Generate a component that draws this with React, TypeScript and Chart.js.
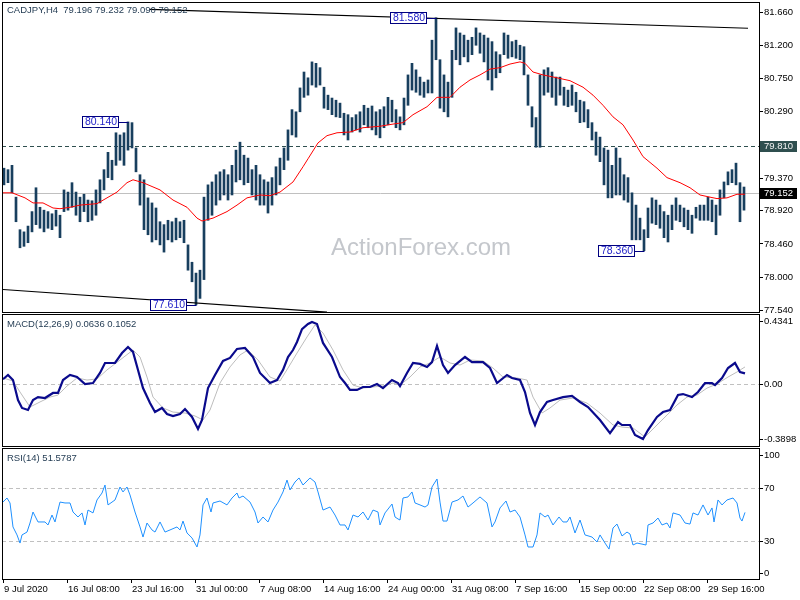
import React, { useEffect, useRef } from 'react';
import { Chart, registerables } from 'chart.js';

Chart.register(...registerables);

// ---------------- data ----------------
// H4 bars, grouped in pairs (bar index = 2k + 0.5)
const barHigh = [
  79.50, 79.48, 79.54, 79.10, 78.65, 78.62, 78.70, 78.90, 79.23, 78.96,
  78.92, 78.90, 78.87, 78.92, 78.85, 79.20, 79.17, 79.30, 79.17, 79.10,
  79.14, 79.06, 79.05, 79.20, 79.34, 79.48, 79.72, 79.61, 79.99, 79.96,
  79.99, 80.14, 80.13, 79.78, 79.41, 79.34, 79.09, 79.02, 78.95, 78.76,
  78.72, 78.78, 78.76, 78.81, 78.76, 78.78, 78.44, 78.20, 78.05, 78.09,
  79.10, 79.27, 79.31, 79.41, 79.45, 79.48, 79.41, 79.54, 79.75, 79.86,
  79.68, 79.64, 79.48, 79.54, 79.41, 79.34, 79.31, 79.37, 79.52, 79.64,
  79.78, 80.03, 80.31, 80.28, 80.61, 80.83, 80.75, 80.97, 80.95, 80.89,
  80.62, 80.51, 80.47, 80.44, 80.40, 80.26, 80.24, 80.20, 80.24, 80.28,
  80.37, 80.33, 80.36, 80.28, 80.31, 80.35, 80.48, 80.44, 80.31, 80.21,
  80.47, 80.79, 80.95, 80.86, 80.76, 80.69, 80.72, 81.27, 81.58, 81.00,
  80.79, 80.69, 81.13, 81.44, 81.37, 81.34, 81.27, 81.31, 81.44, 81.37,
  81.34, 81.30, 81.25, 81.11, 81.07, 81.37, 81.34, 81.25, 81.27, 81.20,
  81.18, 80.79, 80.35, 80.20, 80.79, 80.86, 80.89, 80.83, 80.76, 80.76,
  80.62, 80.58, 80.65, 80.55, 80.44, 80.42, 80.31, 80.13, 80.00, 79.93,
  79.78, 79.75, 79.54, 79.78, 79.64, 79.41, 79.37, 79.16, 78.99, 78.81,
  78.65, 78.95, 79.09, 79.06, 78.99, 78.90, 78.85, 78.99, 79.09, 78.99,
  78.95, 78.92, 78.85, 78.96, 78.99, 78.99, 79.10, 79.06, 78.99, 79.20,
  79.31, 79.45, 79.48, 79.57, 79.30, 79.24,
];
const barLow = [
  79.27, 79.30, 79.16, 78.76, 78.40, 78.42, 78.47, 78.62, 78.72, 78.67,
  78.62, 78.67, 78.65, 78.70, 78.54, 78.90, 78.92, 78.96, 78.85, 78.76,
  78.90, 78.76, 78.78, 78.85, 79.02, 79.20, 79.37, 79.34, 79.54, 79.61,
  79.54, 79.75, 79.78, 79.45, 78.99, 78.65, 78.58, 78.48, 78.51, 78.44,
  78.34, 78.51, 78.48, 78.51, 78.54, 78.47, 78.09, 77.93, 77.61, 77.70,
  77.96, 78.78, 78.85, 78.99, 79.06, 79.13, 79.06, 79.13, 79.31, 79.34,
  79.27, 79.30, 79.13, 79.06, 78.99, 78.99, 78.88, 78.99, 79.13, 79.27,
  79.48, 79.61, 79.96, 79.93, 80.28, 80.48, 80.51, 80.65, 80.62, 80.65,
  80.33, 80.31, 80.24, 80.21, 80.20, 79.96, 79.89, 80.00, 80.03, 80.00,
  80.10, 80.06, 80.03, 79.96, 79.92, 80.06, 80.10, 80.14, 80.06, 80.03,
  80.10, 80.37, 80.58, 80.55, 80.51, 80.48, 80.54, 80.54, 81.00, 80.33,
  80.28, 80.21, 80.48, 81.00, 80.93, 81.04, 80.97, 81.07, 81.20, 81.09,
  80.97, 80.72, 80.58, 80.75, 80.82, 81.07, 81.02, 81.04, 81.02, 81.00,
  80.79, 80.37, 80.07, 79.79, 79.79, 80.51, 80.55, 80.48, 80.37, 80.51,
  80.37, 80.35, 80.37, 80.28, 80.13, 80.14, 80.06, 79.89, 79.68, 79.59,
  79.27, 79.09, 79.09, 79.13, 79.13, 79.06, 79.03, 78.51, 78.51, 78.51,
  78.36, 78.54, 78.74, 78.72, 78.67, 78.54, 78.48, 78.65, 78.78, 78.76,
  78.69, 78.65, 78.60, 78.81, 78.78, 78.78, 78.78, 78.76, 78.58, 78.85,
  79.09, 79.27, 79.30, 79.27, 78.76, 78.92,
];

// [bar index, value]
const maPoints = [
  [0, 79.16], [4.5, 79.16], [11, 79.09], [15, 79.02], [20, 79.02], [25, 78.95], [28.5, 78.94],
  [33.5, 78.96], [38.5, 78.99], [47, 79.01], [52, 79.09], [57, 79.17], [62, 79.30], [65, 79.34],
  [70, 79.30], [78.5, 79.20], [85, 79.06], [92, 78.96], [97, 78.81], [99.5, 78.77], [105, 78.81],
  [112, 78.90], [117, 78.99], [122, 79.09], [128.5, 79.13], [133.5, 79.12], [138.5, 79.17],
  [145, 79.31], [150, 79.52], [152.5, 79.63], [157.5, 79.85], [162, 79.95], [167, 79.99],
  [173.5, 80.00], [180, 80.06], [188.5, 80.08], [195, 80.11], [200, 80.13], [205, 80.24],
  [212, 80.35], [217, 80.48], [223.5, 80.48], [228.5, 80.62], [233.5, 80.72], [238.5, 80.79],
  [243.5, 80.87], [248.5, 80.89], [253.5, 80.94], [258.5, 80.97], [261, 80.95], [265, 80.83],
  [270, 80.79], [277, 80.75], [283.5, 80.71], [290, 80.62], [295, 80.51], [300, 80.37],
  [305, 80.21], [310, 80.10], [315, 79.89], [320, 79.66], [327, 79.50], [332, 79.37],
  [338.5, 79.30], [343.5, 79.23], [348.5, 79.13], [353.5, 79.10], [357, 79.08], [362, 79.09],
  [367, 79.14], [371, 79.14],
];

const macdPoints = [
  [0, 0.027], [2.5, 0.054], [5, 0.022], [7.5, -0.105], [9.5, -0.155], [12.5, -0.168], [15, -0.105],
  [17.5, -0.086], [21, -0.092], [25, -0.060], [27.5, -0.060], [30, 0.022], [33.5, 0.054], [37, 0.041],
  [41, -0.003], [45, 0.003], [48.5, 0.067], [51, 0.130], [56, 0.130], [59.5, 0.193], [62.5, 0.231],
  [65, 0.200], [67.5, 0.086], [70, -0.029], [73.5, -0.124], [76, -0.181], [79.5, -0.155], [82, -0.193],
  [85, -0.206], [88.5, -0.193], [91, -0.162], [94.5, -0.212], [97.5, -0.288], [99.5, -0.231],
  [102.5, -0.029], [106, 0.054], [110, 0.143], [113.5, 0.162], [117, 0.219], [121, 0.225],
  [125, 0.168], [128.5, 0.067], [133.5, 0.003], [137, 0.022], [140, 0.086], [142.5, 0.168],
  [145, 0.212], [147, 0.263], [149.5, 0.345], [152.5, 0.377], [154.5, 0.390], [157, 0.377],
  [160, 0.257], [164.5, 0.168], [168.5, 0.041], [171, 0.003], [173.5, -0.041], [177, -0.041],
  [180, -0.022], [183.5, -0.022], [187, -0.003], [190, -0.029], [194.5, 0.022], [197.5, 0.003],
  [198.5, -0.016], [202, 0.067], [205, 0.130], [208.5, 0.124], [212, 0.105], [214.5, 0.136],
  [217, 0.238], [220, 0.117], [222.5, 0.067], [226, 0.117], [231, 0.168], [234.5, 0.136],
  [240, 0.136], [243.5, 0.098], [247, 0.003], [252, 0.054], [254.5, 0.035], [258.5, 0.022],
  [261, -0.054], [263.5, -0.187], [266, -0.263], [268.5, -0.181], [272, -0.117], [275, -0.105],
  [280, -0.086], [284.5, -0.079], [288.5, -0.117], [292.5, -0.149], [298.5, -0.231], [303.5, -0.314],
  [307.5, -0.244], [309.5, -0.263], [313.5, -0.263], [316, -0.326], [320, -0.352], [322.5, -0.295],
  [327, -0.212], [330, -0.181], [333.5, -0.168], [337.5, -0.073], [340, -0.067], [344.5, -0.086],
  [347.5, -0.054], [351, 0.003], [354.5, 0.003], [356, -0.010], [359.5, 0.035], [362.5, 0.098],
  [366, 0.130], [368.5, 0.073], [371, 0.064],
];

const signalPoints = [
  [0, 0.035], [5, 0.016], [8.5, -0.054], [13.5, -0.149], [18.5, -0.117], [23.5, -0.086], [27.5, -0.073],
  [32, -0.016], [37, 0.035], [42, 0.022], [47, 0.029], [52, 0.086], [58.5, 0.149], [65, 0.212],
  [68.5, 0.168], [72, 0.041], [75, -0.086], [80, -0.155], [85, -0.181], [91, -0.187], [96, -0.206],
  [100, -0.231], [103.5, -0.168], [108.5, 0.003], [113.5, 0.105], [118.5, 0.181], [122.5, 0.212],
  [127.5, 0.149], [133.5, 0.041], [138.5, 0.016], [142.5, 0.098], [147, 0.193], [152, 0.295],
  [156, 0.371], [160, 0.320], [165, 0.212], [170, 0.086], [175, -0.010], [180, -0.029], [185, -0.022],
  [190, -0.016], [195, 0.003], [198.5, -0.010], [203.5, 0.041], [208.5, 0.105], [213.5, 0.130],
  [218.5, 0.168], [223.5, 0.130], [228.5, 0.117], [233.5, 0.149], [240, 0.143], [245, 0.098],
  [250, 0.041], [257, 0.035], [262, 0.022], [265, -0.086], [269.5, -0.187], [273.5, -0.155],
  [278.5, -0.105], [285, -0.092], [292, -0.124], [298.5, -0.187], [305, -0.263], [309.5, -0.276],
  [315, -0.282], [321, -0.339], [327, -0.263], [332, -0.200], [337, -0.136], [342, -0.086],
  [347, -0.073], [352, -0.029], [357, -0.003], [362.5, 0.041], [367, 0.073], [371, 0.105],
];

const rsiPoints = [
  [0, 59.5], [2, 62.6], [3.5, 58.8], [5, 40.5], [7, 34.4], [8.5, 28.2], [9.5, 34.4], [12, 36.6],
  [13.5, 43.5], [15, 51.9], [17.5, 44.3], [21, 44.3], [22.5, 42.0], [24.5, 49.6], [26, 44.3],
  [28.5, 59.5], [31, 58.8], [33.5, 58.8], [35, 51.9], [37.5, 48.1], [39.5, 51.2], [41, 42.0],
  [42.5, 53.4], [45, 51.2], [47, 61.1], [49.5, 66.4], [51, 72.5], [52.5, 57.3], [56, 61.1],
  [58.5, 71.0], [60, 67.2], [62, 71.0], [63.5, 64.9], [66, 51.9], [68.5, 40.5], [70, 32.8],
  [72, 43.5], [74.5, 38.2], [76, 36.6], [78.5, 44.3], [81, 36.6], [83.5, 38.2], [87, 40.5],
  [88.5, 38.2], [90, 45.0], [92, 35.9], [94.5, 32.1], [97, 25.2], [98.5, 34.4], [100, 57.3],
  [102, 62.6], [104, 51.9], [105, 58.8], [108.5, 60.3], [112, 57.3], [114.5, 62.6], [117, 66.4],
  [118, 62.6], [120, 64.1], [123.5, 59.5], [126, 51.9], [127.5, 43.5], [130, 48.1], [132.5, 44.3],
  [135, 53.4], [137.5, 59.5], [140, 67.2], [142, 76.3], [143.5, 68.7], [146, 74.8], [148, 77.9],
  [150, 72.5], [153.5, 77.9], [156, 74.8], [157.5, 67.2], [160, 53.4], [163.5, 55.7], [166, 49.6],
  [168.5, 42.0], [171, 42.0], [172.5, 38.2], [175, 49.6], [177.5, 48.1], [180, 51.9], [182.5, 45.8],
  [185, 53.4], [187.5, 51.9], [188.5, 42.0], [191, 51.2], [194.5, 58.0], [196, 48.1], [197.5, 46.6],
  [198.5, 45.8], [200, 62.6], [202.5, 63.4], [204.5, 67.2], [206, 58.8], [208.5, 57.3], [211, 55.7],
  [212.5, 57.3], [214.5, 71.0], [217, 77.1], [218.5, 59.5], [220, 45.0], [222, 45.0], [224.5, 59.5],
  [227.5, 61.1], [230, 64.1], [232.5, 55.7], [235, 58.8], [238.5, 63.4], [242, 58.8], [243.5, 48.1],
  [244.5, 40.5], [246, 44.3], [248.5, 55.0], [251.5, 60.3], [253.5, 51.9], [256, 53.4], [258.5, 48.1],
  [261, 34.4], [262.5, 25.2], [265, 25.2], [267, 34.4], [268.5, 51.2], [271, 48.1], [272.5, 49.6],
  [275, 42.0], [278, 48.1], [280, 44.3], [282, 44.3], [283.5, 48.1], [286, 35.9], [288.5, 45.8],
  [291, 34.4], [294.5, 32.8], [297, 29.0], [298.5, 34.4], [301, 28.2], [303, 23.6], [305, 39.7],
  [307, 42.7], [309.5, 33.6], [312, 36.6], [313.5, 35.1], [315, 26.7], [317, 28.2], [319.5, 27.4],
  [321.5, 26.7], [322.5, 42.0], [325, 43.5], [327.5, 47.3], [329.5, 42.0], [332, 43.5], [333.5, 39.7],
  [335, 51.2], [338.5, 49.6], [341, 43.5], [343.5, 42.7], [345, 51.2], [347.5, 49.6], [350, 57.3],
  [352.5, 49.6], [354.5, 55.0], [355.5, 44.3], [357.5, 61.1], [359.5, 57.3], [362, 61.1], [365, 62.6],
  [367, 58.8], [368.5, 47.3], [369.5, 45.0], [371, 51.6],
];

const upperTrend = [[73.5, 81.697], [372.5, 81.435]];
const lowerTrend = [[0, 77.823], [162, 77.51]];

const extremeBars = [62.5, 216.5, 96.5, 320.5];
const extremePrices = [80.14, 81.58, 77.61, 78.36];

const priceTicks = [81.66, 81.2, 80.75, 80.29, 79.37, 78.92, 78.46, 78.0, 77.54];
const supportLevel = 79.81;
const lastPrice = 79.152;
const macdTicks = [0.4341, 0, -0.3898];
const macdTickLabels = ['0.4341', '0.00', '-0.3898'];
const rsiTicks = [100, 70, 30, 0];
const rsiLevels = [70, 30];

const timeTickBars = [0, 32, 64, 96, 128, 160, 192, 224, 256, 288, 320, 352];
const timeLabels = [
  '9 Jul 2020', '16 Jul 08:00', '23 Jul 16:00', '31 Jul 00:00', '7 Aug 08:00', '14 Aug 16:00',
  '24 Aug 00:00', '31 Aug 08:00', '7 Sep 16:00', '15 Sep 00:00', '22 Sep 08:00', '29 Sep 16:00',
];

const mainTitle = 'CADJPY,H4  79.196 79.232 79.090 79.152';
const macdTitle = 'MACD(12,26,9) 0.0636 0.1052';
const rsiTitle = 'RSI(14) 51.5787';
const watermark = 'ActionForex.com';

const barRange = [-0.5, 378];
const priceRange = [77.512, 81.798];
const macdRange = [-0.396, 0.4404];
const rsiRange = [0, 100];

// ---------------- helpers ----------------
const FONT = '"Liberation Sans", Arial, sans-serif';
const TITLE_COLOR = '#1F3850';

function baseOptions(padding: any, yMin: number, yMax: number): any {
  return {
    animation: false,
    responsive: false,
    maintainAspectRatio: false,
    devicePixelRatio: 1,
    events: [],
    layout: { padding },
    plugins: { legend: { display: false }, tooltip: { enabled: false }, title: { display: false } },
    scales: {
      x: { type: 'linear', min: barRange[0], max: barRange[1], display: false, offset: false },
      y: { type: 'linear', min: yMin, max: yMax, display: false },
    },
  };
}

function lineDs(points: number[][], color: string, width: number, order: number): any {
  return {
    type: 'line',
    data: points.map(([x, y]) => ({ x, y })),
    borderColor: color,
    borderWidth: width,
    pointRadius: 0,
    tension: 0,
    fill: false,
    order,
  };
}

function drawFrame(ctx: CanvasRenderingContext2D, l: number, t: number, r: number, b: number) {
  ctx.save();
  ctx.strokeStyle = '#000';
  ctx.lineWidth = 1;
  ctx.setLineDash([]);
  ctx.strokeRect(l + 0.5, t + 0.5, r - l, b - t);
  ctx.restore();
}

function drawRightLabel(ctx: CanvasRenderingContext2D, right: number, y: number, text: string) {
  ctx.fillStyle = '#000';
  ctx.fillRect(right + 1, Math.round(y), 3, 1);
  ctx.font = `9.5px ${FONT}`;
  ctx.textAlign = 'left';
  ctx.textBaseline = 'middle';
  ctx.fillText(text, right + 5, y + 0.5);
}

function hLine(ctx: CanvasRenderingContext2D, l: number, r: number, y: number, color: string, dash: number[]) {
  ctx.save();
  ctx.strokeStyle = color;
  ctx.lineWidth = 1;
  ctx.setLineDash(dash);
  const yy = Math.round(y) + 0.5;
  ctx.beginPath();
  ctx.moveTo(l, yy);
  ctx.lineTo(r, yy);
  ctx.stroke();
  ctx.restore();
}

function drawTitle(ctx: CanvasRenderingContext2D, text: string, y: number) {
  ctx.save();
  ctx.font = `9.5px ${FONT}`;
  ctx.fillStyle = TITLE_COLOR;
  ctx.textAlign = 'left';
  ctx.textBaseline = 'middle';
  ctx.fillText(text, 7, y);
  ctx.restore();
}

// ---------------- charts ----------------
function makeMain(canvas: HTMLCanvasElement) {
  const plugin = {
    id: 'mainDeco',
    beforeDatasetsDraw(chart: any) {
      const { ctx, chartArea: a, scales } = chart;
      const y = scales.y;
      ctx.save();
      ctx.font = `24px ${FONT}`;
      ctx.fillStyle = '#C4C7CC';
      ctx.textAlign = 'left';
      ctx.textBaseline = 'alphabetic';
      ctx.fillText(watermark, 331, 255);
      ctx.restore();
      hLine(ctx, a.left, a.right, y.getPixelForValue(lastPrice), '#C0C0C0', []);
      hLine(ctx, a.left, a.right, y.getPixelForValue(supportLevel), '#2F4F4F', [4, 3]);
    },
    afterDraw(chart: any) {
      const { ctx, chartArea: a, scales } = chart;
      const x = scales.x;
      const y = scales.y;
      drawFrame(ctx, a.left, a.top, a.right, a.bottom);
      ctx.save();
      priceTicks.forEach((v) => drawRightLabel(ctx, a.right, y.getPixelForValue(v), v.toFixed(3)));
      // highlighted labels
      const boxes: [number, string, string][] = [
        [supportLevel, '#2F4F4F', '#F2F2F2'],
        [lastPrice, '#000000', '#FFFFFF'],
      ];
      boxes.forEach(([v, bg, fg]) => {
        const py = y.getPixelForValue(v);
        ctx.fillStyle = bg;
        ctx.fillRect(a.right + 1, Math.round(py) - 5, 37, 11);
        ctx.fillStyle = fg;
        ctx.font = `9.5px ${FONT}`;
        ctx.textAlign = 'left';
        ctx.textBaseline = 'middle';
        ctx.fillText(v.toFixed(3), a.right + 5, Math.round(py) + 0.5);
      });
      // extreme labels
      extremeBars.forEach((b, i) => {
        const price = extremePrices[i];
        const px = Math.round(x.getPixelForValue(b));
        const py = Math.round(y.getPixelForValue(price));
        const bw = 36;
        const bh = 11;
        const bx = px - 10 - bw;
        const by = py - 6;
        ctx.fillStyle = '#FFFFFF';
        ctx.fillRect(bx, by, bw, bh);
        ctx.strokeStyle = '#000080';
        ctx.lineWidth = 1;
        ctx.strokeRect(bx + 0.5, by + 0.5, bw, bh);
        ctx.beginPath();
        ctx.moveTo(bx + bw + 0.5, py + 0.5);
        ctx.lineTo(px + 0.5, py + 0.5);
        ctx.stroke();
        ctx.fillStyle = '#2222C8';
        ctx.font = `10.5px ${FONT}`;
        ctx.textAlign = 'center';
        ctx.textBaseline = 'middle';
        ctx.fillText(price.toFixed(3), bx + bw / 2 + 1, by + bh / 2 + 1);
      });
      ctx.restore();
      drawTitle(ctx, mainTitle, 10.5);
    },
  };
  return new Chart(canvas, {
    type: 'bar',
    data: {
      datasets: [
        lineDs(maPoints, '#FF0000', 1, 0),
        lineDs(upperTrend, '#000000', 1.2, 1),
        lineDs(lowerTrend, '#000000', 1.2, 1),
        {
          type: 'bar',
          data: barHigh.map((h, k) => ({ x: 2 * k + 0.5, y: [barLow[k], h] })),
          backgroundColor: '#183F5E',
          borderWidth: 0,
          barThickness: 2,
          order: 2,
        } as any,
      ],
    },
    options: baseOptions({ left: 2, right: 41, top: 2, bottom: 1 }, priceRange[0], priceRange[1]),
    plugins: [plugin],
  } as any);
}

function makeMacd(canvas: HTMLCanvasElement) {
  const plugin = {
    id: 'macdDeco',
    beforeDatasetsDraw(chart: any) {
      const { ctx, chartArea: a, scales } = chart;
      hLine(ctx, a.left, a.right, scales.y.getPixelForValue(0), '#C0C0C0', [4, 3]);
    },
    afterDraw(chart: any) {
      const { ctx, chartArea: a, scales } = chart;
      drawFrame(ctx, a.left, a.top, a.right, a.bottom);
      ctx.save();
      macdTicks.forEach((v, i) => {
        let py = scales.y.getPixelForValue(v);
        py = Math.min(Math.max(py, a.top + 7), a.bottom - 7);
        drawRightLabel(ctx, a.right, py, macdTickLabels[i]);
      });
      ctx.restore();
      drawTitle(ctx, macdTitle, 11);
    },
  };
  return new Chart(canvas, {
    type: 'line',
    data: {
      datasets: [
        lineDs(macdPoints, '#0A0A8C', 2.2, 0),
        lineDs(signalPoints, '#BDBDBD', 1, 1),
      ],
    },
    options: baseOptions({ left: 2, right: 41, top: 1, bottom: 1 }, macdRange[0], macdRange[1]),
    plugins: [plugin],
  } as any);
}

function makeRsi(canvas: HTMLCanvasElement) {
  const plugin = {
    id: 'rsiDeco',
    beforeDatasetsDraw(chart: any) {
      const { ctx, chartArea: a, scales } = chart;
      rsiLevels.forEach((v) => hLine(ctx, a.left, a.right, scales.y.getPixelForValue(v), '#C0C0C0', [4, 3]));
    },
    afterDraw(chart: any) {
      const { ctx, chartArea: a, scales } = chart;
      drawFrame(ctx, a.left, a.top - 1, a.right, a.bottom - 1);
      ctx.save();
      rsiTicks.forEach((v) => {
        let py = scales.y.getPixelForValue(v);
        py = Math.min(Math.max(py, a.top + 6), a.bottom - 7);
        drawRightLabel(ctx, a.right, py, String(v));
      });
      // time axis
      ctx.font = `9.5px ${FONT}`;
      ctx.fillStyle = '#000';
      ctx.textAlign = 'left';
      ctx.textBaseline = 'middle';
      timeTickBars.forEach((b, i) => {
        const px = Math.round(scales.x.getPixelForValue(b));
        ctx.fillRect(px, a.bottom, 1, 3);
        ctx.fillText(timeLabels[i], px + 1, a.bottom + 9.5);
      });
      ctx.restore();
      drawTitle(ctx, rsiTitle, 11);
    },
  };
  return new Chart(canvas, {
    type: 'line',
    data: {
      datasets: [lineDs(rsiPoints, '#1E90FF', 1, 0)],
    },
    options: baseOptions({ left: 2, right: 41, top: 2, bottom: 20 }, rsiRange[0], rsiRange[1]),
    plugins: [plugin],
  } as any);
}

export default function App() {
  const mainRef = useRef<HTMLCanvasElement>(null);
  const macdRef = useRef<HTMLCanvasElement>(null);
  const rsiRef = useRef<HTMLCanvasElement>(null);

  useEffect(() => {
    const charts = [
      makeMain(mainRef.current as HTMLCanvasElement),
      makeMacd(macdRef.current as HTMLCanvasElement),
      makeRsi(rsiRef.current as HTMLCanvasElement),
    ];
    return () => charts.forEach((c) => c.destroy());
  }, []);

  const cs = (top: number, h: number): React.CSSProperties => ({
    position: 'absolute',
    left: 0,
    top,
    width: 800,
    height: h,
    display: 'block',
  });

  return (
    <div style={{ position: 'fixed', left: 0, top: 0, width: 800, height: 600, background: '#FFFFFF', overflow: 'hidden' }}>
      <canvas ref={mainRef} width={800} height={313} style={cs(0, 313)} />
      <canvas ref={macdRef} width={800} height={134} style={cs(313, 134)} />
      <canvas ref={rsiRef} width={800} height={153} style={cs(447, 153)} />
    </div>
  );
}
